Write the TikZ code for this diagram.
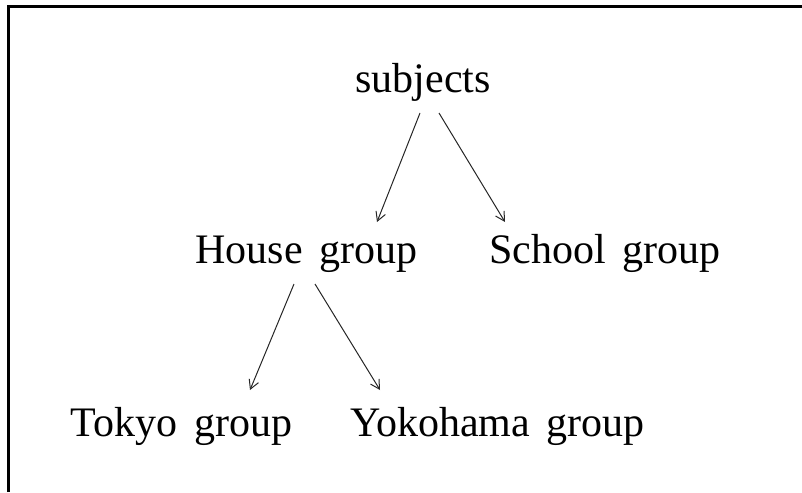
\documentclass[tikz,border=0pt]{standalone}
\usepackage{fontspec}
\setmainfont[WordSpace=1.6]{Liberation Serif}
\usetikzlibrary{calc,arrows.meta}
\begin{document}
\begin{tikzpicture}[x=1pt,y=-1pt,
  lbl/.style={anchor=base,inner sep=0pt,font=\fontsize{42}{50}\selectfont},
  conn/.style={draw=black!85,line width=1pt,-{Straight Barb[length=9pt,width=10pt,line width=1pt]}},
  frameline/.style={draw=black,line width=2.5pt}]
\useasboundingbox (0,0) rectangle (802,492);
\draw[frameline] (8.5,492) -- (8.5,6.5) -- (802,6.5);
\node[lbl] (sub) at (423,93) {subjects};
\node[lbl] (house) at (306.5,263) {House group};
\node[lbl] (school) at (605,263) {School group};
\node[lbl] (tokyo) at (181.5,436) {Tokyo group};
\node[lbl] (yoko) at (497.5,436) {Yokohama group};
\draw[conn] ($(sub.base)+(-3,20)$) -- ($(house.base)+(70.5,-41)$);
\draw[conn] ($(sub.base)+(16,20)$) -- ($(school.base)+(-100,-41)$);
\draw[conn] ($(house.base)+(-12.5,21)$) -- ($(tokyo.base)+(68.5,-46)$);
\draw[conn] ($(house.base)+(8.5,21)$) -- ($(yoko.base)+(-117.5,-46)$);
\end{tikzpicture}
\end{document}
